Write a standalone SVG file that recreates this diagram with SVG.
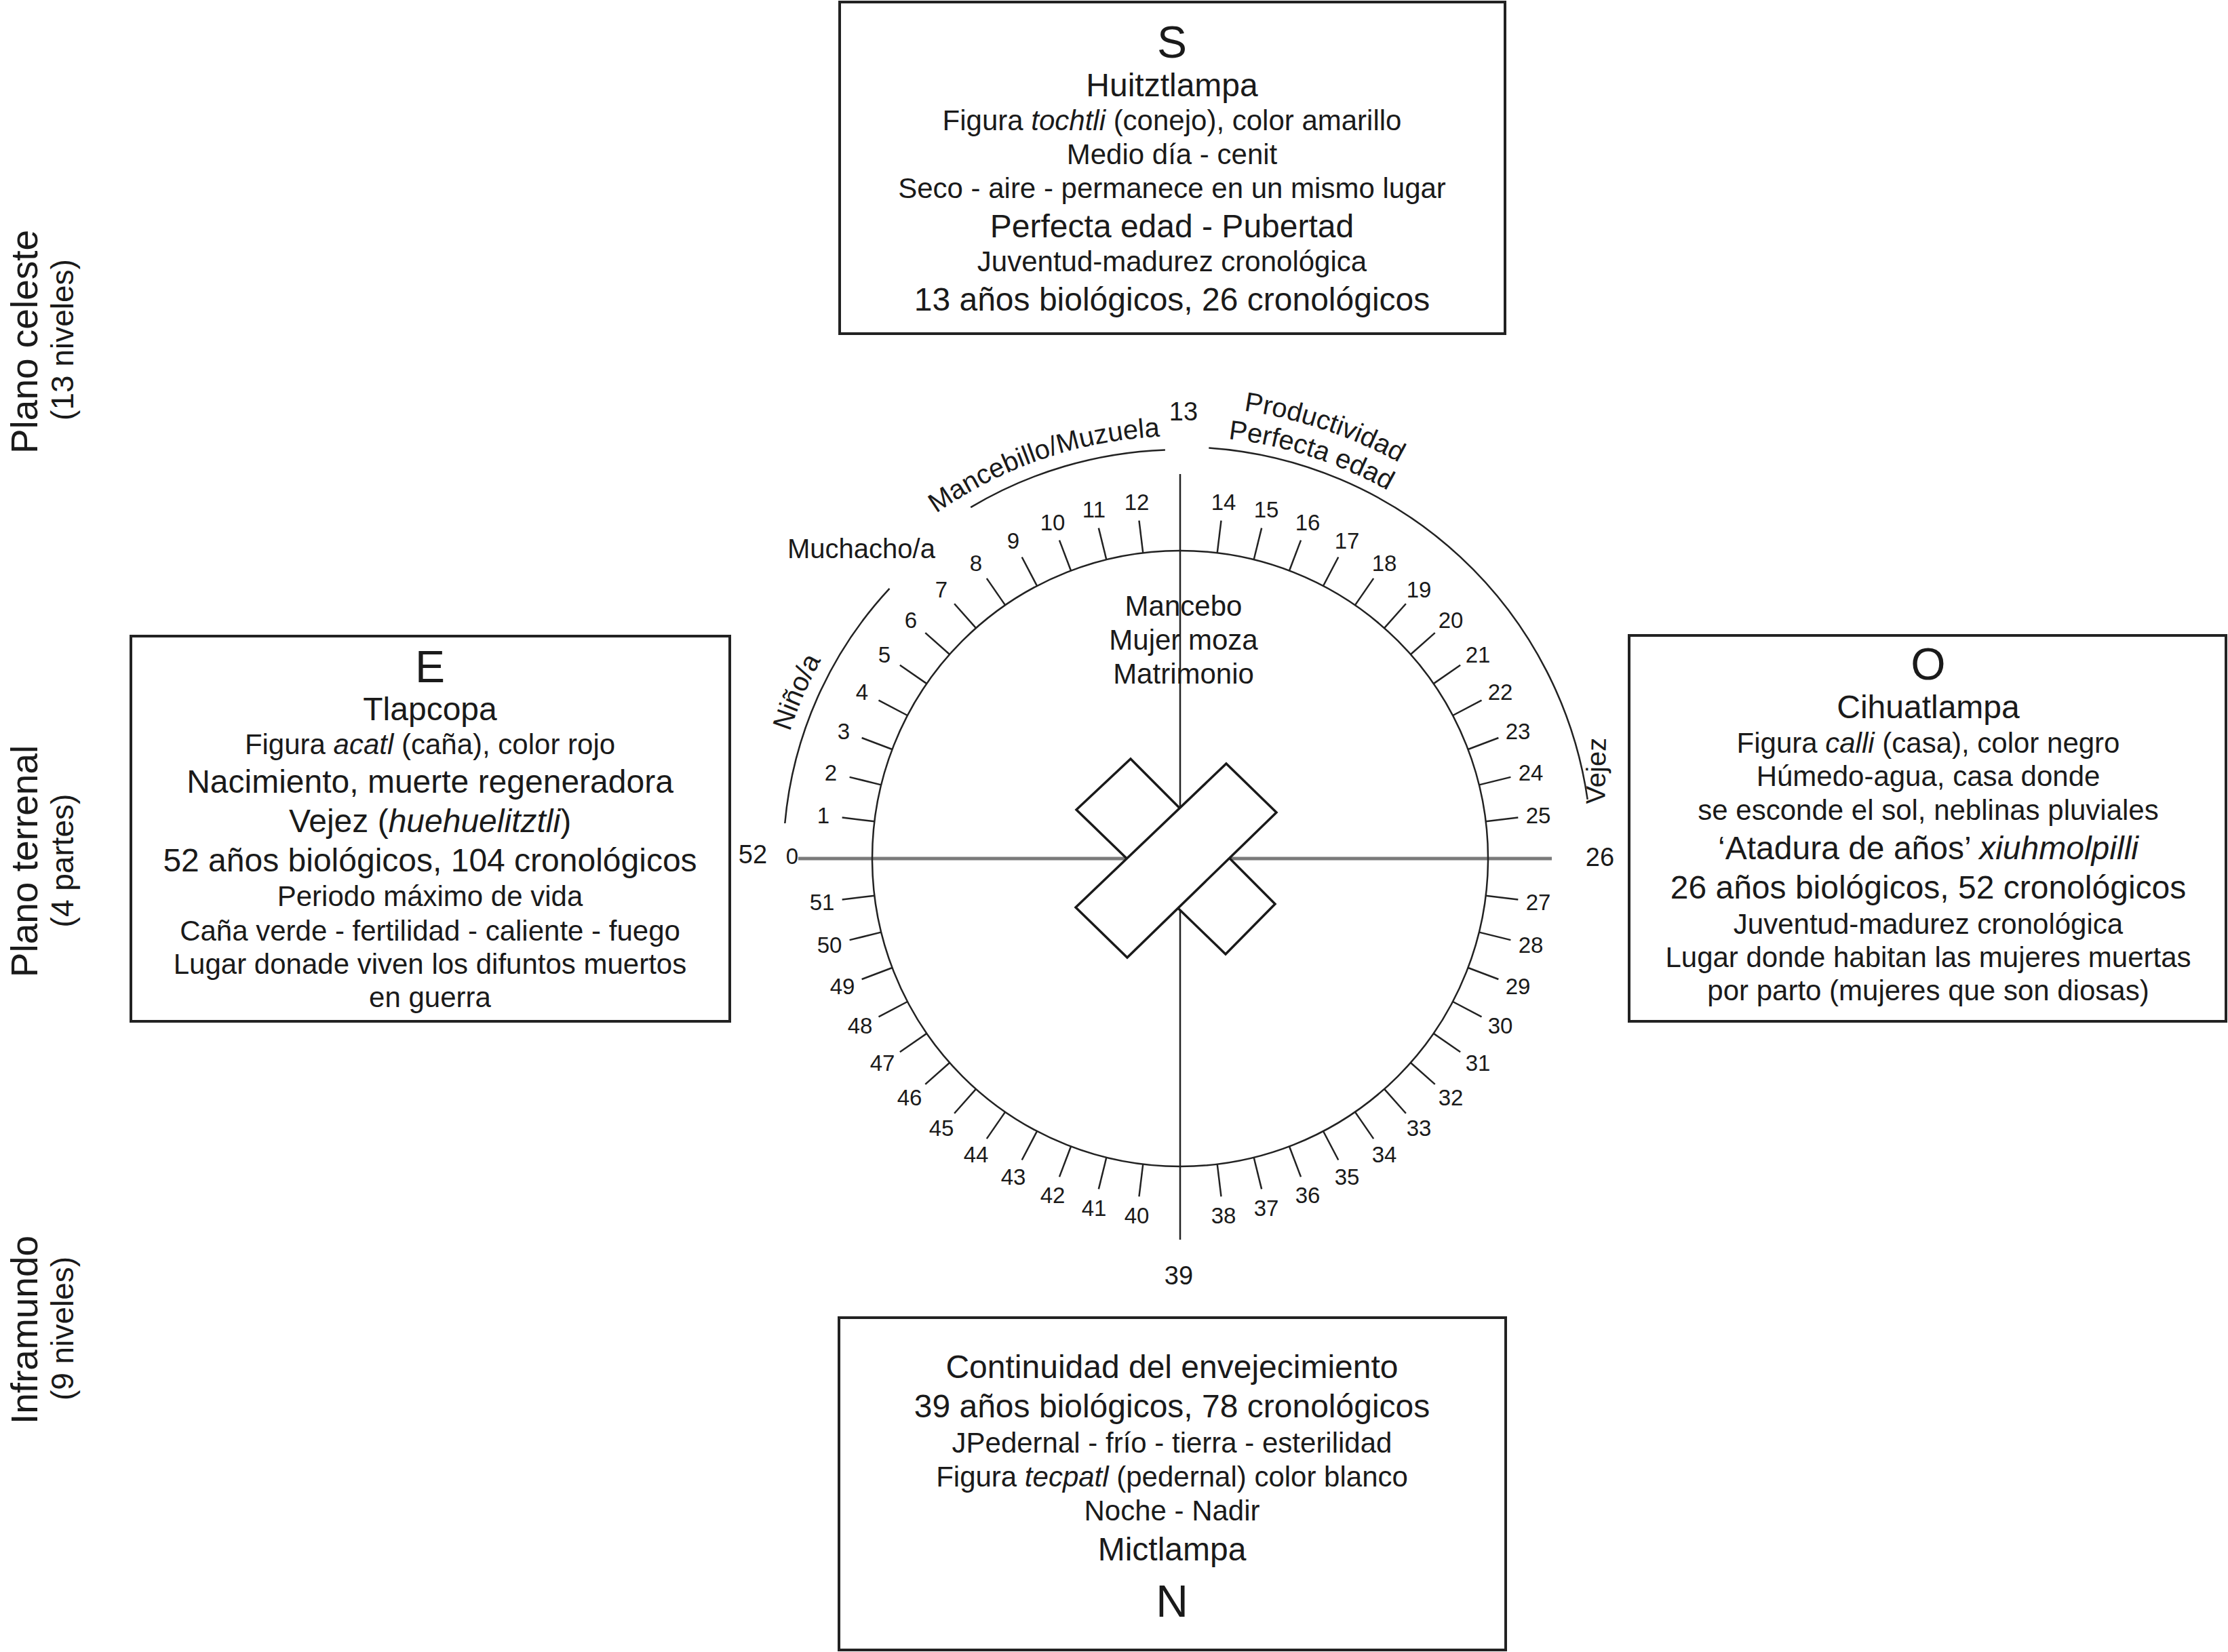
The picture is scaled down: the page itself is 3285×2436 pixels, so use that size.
<svg xmlns="http://www.w3.org/2000/svg" width="3285" height="2436" viewBox="0 0 3285 2436">
<style>
text{font-family:"Liberation Sans",Arial,sans-serif;fill:#1a1a1a}
.box{fill:none;stroke:#222;stroke-width:4}
.c{text-anchor:middle}
.sm{font-size:42px}
.lg{font-size:48px}
.ltr{font-size:66px}
.num{font-size:33px;text-anchor:middle}
.ax{font-size:38px;text-anchor:middle}
.arc{fill:none;stroke:#222;stroke-width:2.5}
.side{font-size:55px;text-anchor:middle}
.sub{font-size:46px;text-anchor:middle}
.curv{font-size:40px}
</style>
<defs>
<line id="tk" x1="1286" y1="1266" x2="1238" y2="1266" stroke="#222" stroke-width="2.5"/>
<path id="p605" d="M1135,1266 A605,605 0 0 1 2345,1266"/>
<path id="p623" d="M1117,1266 A623,623 0 0 1 2363,1266"/>
<path id="p667" d="M1073,1266 A667,667 0 0 1 2407,1266"/>
</defs>
<rect width="3285" height="2436" fill="#fff"/>

<g id="side-labels">
<text class="side" transform="translate(55,504) rotate(-90)">Plano celeste</text>
<text class="sub" transform="translate(108,501) rotate(-90)">(13 niveles)</text>
<text class="side" transform="translate(55,1270) rotate(-90)">Plano terrenal</text>
<text class="sub" transform="translate(108,1269) rotate(-90)">(4 partes)</text>
<text class="side" transform="translate(55,1961) rotate(-90)">Inframundo</text>
<text class="sub" transform="translate(108,1959) rotate(-90)">(9 niveles)</text>
</g>

<g id="box-S">
<rect class="box" x="1238" y="3" width="981" height="489"/>
<text class="c ltr" x="1728" y="85">S</text>
<text class="c lg" x="1728" y="142">Huitztlampa</text>
<text class="c sm" x="1728" y="192">Figura <tspan font-style="italic">tochtli</tspan> (conejo), color amarillo</text>
<text class="c sm" x="1728" y="242">Medio día - cenit</text>
<text class="c sm" x="1728" y="292">Seco - aire - permanece en un mismo lugar</text>
<text class="c lg" x="1728" y="350">Perfecta edad - Pubertad</text>
<text class="c sm" x="1728" y="400">Juventud-madurez cronológica</text>
<text class="c lg" x="1728" y="458">13 años biológicos, 26 cronológicos</text>
</g>

<g id="box-E">
<rect class="box" x="193" y="938" width="883" height="568"/>
<text class="c ltr" x="634" y="1006">E</text>
<text class="c lg" x="634" y="1062">Tlapcopa</text>
<text class="c sm" x="634" y="1112">Figura <tspan font-style="italic">acatl</tspan> (caña), color rojo</text>
<text class="c lg" x="634" y="1169">Nacimiento, muerte regeneradora</text>
<text class="c lg" x="634" y="1227">Vejez (<tspan font-style="italic">huehuelitztli</tspan>)</text>
<text class="c lg" x="634" y="1285">52 años biológicos, 104 cronológicos</text>
<text class="c sm" x="634" y="1336">Periodo máximo de vida</text>
<text class="c sm" x="634" y="1387">Caña verde - fertilidad - caliente - fuego</text>
<text class="c sm" x="634" y="1436">Lugar donade viven los difuntos muertos</text>
<text class="c sm" x="634" y="1485">en guerra</text>
</g>

<g id="box-O">
<rect class="box" x="2402" y="937" width="880" height="569"/>
<text class="c ltr" x="2843" y="1002">O</text>
<text class="c lg" x="2843" y="1059">Cihuatlampa</text>
<text class="c sm" x="2843" y="1110">Figura <tspan font-style="italic">calli</tspan> (casa), color negro</text>
<text class="c sm" x="2843" y="1159">Húmedo-agua, casa donde</text>
<text class="c sm" x="2843" y="1209">se esconde el sol, neblinas pluviales</text>
<text class="c lg" x="2843" y="1267">‘Atadura de años’ <tspan font-style="italic">xiuhmolpilli</tspan></text>
<text class="c lg" x="2843" y="1325">26 años biológicos, 52 cronológicos</text>
<text class="c sm" x="2843" y="1377">Juventud-madurez cronológica</text>
<text class="c sm" x="2843" y="1426">Lugar donde habitan las mujeres muertas</text>
<text class="c sm" x="2843" y="1475">por parto (mujeres que son diosas)</text>
</g>

<g id="box-N">
<rect class="box" x="1237" y="1943" width="983" height="490"/>
<text class="c lg" x="1728" y="2032">Continuidad del envejecimiento</text>
<text class="c lg" x="1728" y="2090">39 años biológicos, 78 cronológicos</text>
<text class="c sm" x="1728" y="2142">JPedernal - frío - tierra - esterilidad</text>
<text class="c sm" x="1728" y="2192">Figura <tspan font-style="italic">tecpatl</tspan> (pedernal) color blanco</text>
<text class="c sm" x="1728" y="2242">Noche - Nadir</text>
<text class="c lg" x="1728" y="2301">Mictlampa</text>
<text class="c ltr" x="1728" y="2384">N</text>
</g>

<g id="connectors">
<line x1="1177" y1="1266" x2="2288" y2="1266" stroke="#7a7a7a" stroke-width="5"/>
<line x1="1740" y1="699" x2="1740" y2="1828" stroke="#222" stroke-width="2.5"/>
</g>

<g id="wheel">
<circle cx="1740" cy="1266" r="454" fill="none" stroke="#222" stroke-width="2.5"/>
<g id="ticks">
<use href="#tk" transform="rotate(6.923 1740 1266)"/>
<use href="#tk" transform="rotate(13.846 1740 1266)"/>
<use href="#tk" transform="rotate(20.769 1740 1266)"/>
<use href="#tk" transform="rotate(27.692 1740 1266)"/>
<use href="#tk" transform="rotate(34.615 1740 1266)"/>
<use href="#tk" transform="rotate(41.538 1740 1266)"/>
<use href="#tk" transform="rotate(48.462 1740 1266)"/>
<use href="#tk" transform="rotate(55.385 1740 1266)"/>
<use href="#tk" transform="rotate(62.308 1740 1266)"/>
<use href="#tk" transform="rotate(69.231 1740 1266)"/>
<use href="#tk" transform="rotate(76.154 1740 1266)"/>
<use href="#tk" transform="rotate(83.077 1740 1266)"/>
<use href="#tk" transform="rotate(96.923 1740 1266)"/>
<use href="#tk" transform="rotate(103.846 1740 1266)"/>
<use href="#tk" transform="rotate(110.769 1740 1266)"/>
<use href="#tk" transform="rotate(117.692 1740 1266)"/>
<use href="#tk" transform="rotate(124.615 1740 1266)"/>
<use href="#tk" transform="rotate(131.538 1740 1266)"/>
<use href="#tk" transform="rotate(138.462 1740 1266)"/>
<use href="#tk" transform="rotate(145.385 1740 1266)"/>
<use href="#tk" transform="rotate(152.308 1740 1266)"/>
<use href="#tk" transform="rotate(159.231 1740 1266)"/>
<use href="#tk" transform="rotate(166.154 1740 1266)"/>
<use href="#tk" transform="rotate(173.077 1740 1266)"/>
<use href="#tk" transform="rotate(186.923 1740 1266)"/>
<use href="#tk" transform="rotate(193.846 1740 1266)"/>
<use href="#tk" transform="rotate(200.769 1740 1266)"/>
<use href="#tk" transform="rotate(207.692 1740 1266)"/>
<use href="#tk" transform="rotate(214.615 1740 1266)"/>
<use href="#tk" transform="rotate(221.538 1740 1266)"/>
<use href="#tk" transform="rotate(228.462 1740 1266)"/>
<use href="#tk" transform="rotate(235.385 1740 1266)"/>
<use href="#tk" transform="rotate(242.308 1740 1266)"/>
<use href="#tk" transform="rotate(249.231 1740 1266)"/>
<use href="#tk" transform="rotate(256.154 1740 1266)"/>
<use href="#tk" transform="rotate(263.077 1740 1266)"/>
<use href="#tk" transform="rotate(276.923 1740 1266)"/>
<use href="#tk" transform="rotate(283.846 1740 1266)"/>
<use href="#tk" transform="rotate(290.769 1740 1266)"/>
<use href="#tk" transform="rotate(297.692 1740 1266)"/>
<use href="#tk" transform="rotate(304.615 1740 1266)"/>
<use href="#tk" transform="rotate(311.538 1740 1266)"/>
<use href="#tk" transform="rotate(318.462 1740 1266)"/>
<use href="#tk" transform="rotate(325.385 1740 1266)"/>
<use href="#tk" transform="rotate(332.308 1740 1266)"/>
<use href="#tk" transform="rotate(339.231 1740 1266)"/>
<use href="#tk" transform="rotate(346.154 1740 1266)"/>
<use href="#tk" transform="rotate(353.077 1740 1266)"/>
</g>
<g id="tick-labels">
<text class="num" x="1168" y="1274">0</text>
<text class="num" x="1214" y="1214">1</text>
<text class="num" x="1225" y="1151">2</text>
<text class="num" x="1244" y="1090">3</text>
<text class="num" x="1271" y="1032">4</text>
<text class="num" x="1304" y="977">5</text>
<text class="num" x="1343" y="926">6</text>
<text class="num" x="1388" y="881">7</text>
<text class="num" x="1439" y="842">8</text>
<text class="num" x="1494" y="809">9</text>
<text class="num" x="1552" y="782">10</text>
<text class="num" x="1613" y="763">11</text>
<text class="num" x="1676" y="752">12</text>
<text class="num" x="1804" y="752">14</text>
<text class="num" x="1867" y="763">15</text>
<text class="num" x="1928" y="782">16</text>
<text class="num" x="1986" y="809">17</text>
<text class="num" x="2041" y="842">18</text>
<text class="num" x="2092" y="881">19</text>
<text class="num" x="2139" y="926">20</text>
<text class="num" x="2179" y="977">21</text>
<text class="num" x="2212" y="1032">22</text>
<text class="num" x="2238" y="1090">23</text>
<text class="num" x="2257" y="1151">24</text>
<text class="num" x="2268" y="1214">25</text>
<text class="num" x="2268" y="1342">27</text>
<text class="num" x="2257" y="1405">28</text>
<text class="num" x="2238" y="1466">29</text>
<text class="num" x="2212" y="1524">30</text>
<text class="num" x="2179" y="1579">31</text>
<text class="num" x="2139" y="1630">32</text>
<text class="num" x="2092" y="1675">33</text>
<text class="num" x="2041" y="1714">34</text>
<text class="num" x="1986" y="1747">35</text>
<text class="num" x="1928" y="1774">36</text>
<text class="num" x="1867" y="1793">37</text>
<text class="num" x="1804" y="1804">38</text>
<text class="num" x="1676" y="1804">40</text>
<text class="num" x="1613" y="1793">41</text>
<text class="num" x="1552" y="1774">42</text>
<text class="num" x="1494" y="1747">43</text>
<text class="num" x="1439" y="1714">44</text>
<text class="num" x="1388" y="1675">45</text>
<text class="num" x="1341" y="1630">46</text>
<text class="num" x="1301" y="1579">47</text>
<text class="num" x="1268" y="1524">48</text>
<text class="num" x="1242" y="1466">49</text>
<text class="num" x="1223" y="1405">50</text>
<text class="num" x="1212" y="1342">51</text>
</g>
<g id="axis-labels">
<text class="ax" x="1745" y="620">13</text>
<text class="ax" x="2359" y="1277">26</text>
<text class="ax" x="1738" y="1894">39</text>
<text class="ax" x="1110" y="1273">52</text>
</g>
<g id="inner-text">
<text class="c sm" x="1745" y="908">Mancebo</text>
<text class="c sm" x="1745" y="958">Mujer moza</text>
<text class="c sm" x="1745" y="1008">Matrimonio</text>
</g>
<g id="cross" fill="#fff" stroke="#1a1a1a" stroke-width="3.5" stroke-linejoin="miter">
<polygon points="1667,1119 1880,1333 1807,1407 1587,1194"/>
<polygon points="1808,1126 1882,1198 1662,1412 1586,1338"/>
</g>
</g>

<g id="life-stages">
<path class="arc" d="M1157.3,1214 A585,585 0 0 1 1311.5,867.8"/>
<path class="arc" d="M1431.2,748.1 A603,603 0 0 1 1717.9,663.4"/>
<path class="arc" d="M1782.3,660.5 A607,607 0 0 1 2340.7,1178.9"/>
<text class="curv"><textPath href="#p605" startOffset="248" text-anchor="middle">Niño/a</textPath></text>
<text class="curv"><textPath href="#p623" startOffset="772" text-anchor="middle">Mancebillo/Muzuela</textPath></text>
<text class="curv"><textPath href="#p623" startOffset="1174" text-anchor="middle">Perfecta edad</textPath></text>
<text class="curv"><textPath href="#p667" startOffset="1263" text-anchor="middle">Productividad</textPath></text>
<text class="curv c" x="1270" y="823">Muchacho/a</text>
<text class="curv c" transform="translate(2367,1137) rotate(-89)">Vejez</text>
</g>
</svg>
